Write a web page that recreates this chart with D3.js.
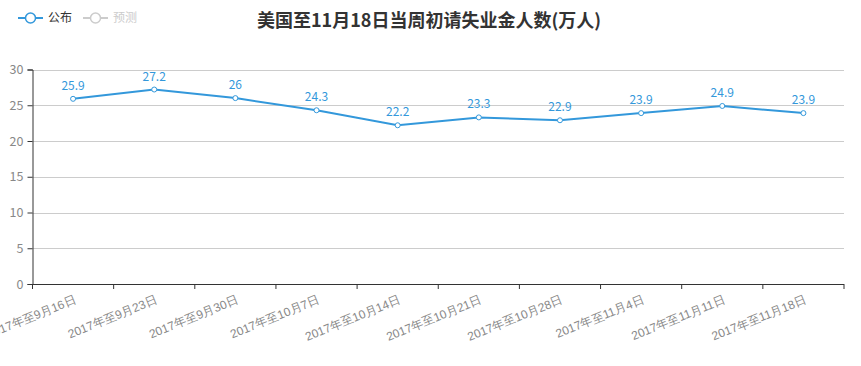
<!DOCTYPE html>
<html><head><meta charset="utf-8">
<script src="https://cdn.jsdelivr.net/npm/d3@7/dist/d3.min.js"></script>
<style>body{margin:0;background:#fff;}svg{display:block;font-family:"Noto Sans CJK SC","Microsoft YaHei",sans-serif;}</style>
</head><body><svg id="c" width="861" height="366"></svg>
<script>
const categories = ["2017年至9月16日","2017年至9月23日","2017年至9月30日","2017年至10月7日","2017年至10月14日","2017年至10月21日","2017年至10月28日","2017年至11月4日","2017年至11月11日","2017年至11月18日"];
const published = [25.9, 27.2, 26, 24.3, 22.2, 23.3, 22.9, 23.9, 24.9, 23.9];
const yTicks = [0, 5, 10, 15, 20, 25, 30];
const legendItems = ["公布", "预测"];
const title = "美国至11月18日当周初请失业金人数(万人)";

const svg = d3.select("#c");
const L = 32.5, R = 844, T = 69.5, B = 284;
const color = "#3398db";
const x = d3.scaleBand().domain(categories).range([L, R]);
const y = d3.scaleLinear().domain([0, 30]).range([B, T]);

// grid
svg.append("g").selectAll("line").data(yTicks.filter(d => d > 0)).join("line")
  .attr("x1", L).attr("x2", R).attr("y1", d => Math.round(y(d)) + 0.5).attr("y2", d => Math.round(y(d)) + 0.5)
  .attr("stroke", "#ccc").attr("stroke-width", 1);

// y axis
const ya = svg.append("g").attr("transform", `translate(${L},0)`)
  .call(d3.axisLeft(y).tickValues(yTicks).tickSize(5).tickPadding(4));
ya.select(".domain").attr("stroke", "#333");
ya.selectAll(".tick line").attr("stroke", "#333");
ya.selectAll("text").attr("fill", "#888").style("font-size", "12.5px").style("font-family", "'Noto Sans CJK SC',sans-serif");

// x axis
const xa = svg.append("g").attr("transform", `translate(0,${B})`)
  .call(d3.axisBottom(x).tickSize(0).tickFormat(""));
xa.select(".domain").attr("stroke", "#333").attr("d", `M${L},0.5H${R}`);
const bounds = categories.map((c, i) => x(c)).concat([R]);
xa.append("g").selectAll("line").data(bounds).join("line")
  .attr("x1", d => d).attr("x2", d => d).attr("y1", 0).attr("y2", 5).attr("stroke", "#333");
xa.append("g").selectAll("text").data(categories).join("text")
  .attr("transform", d => `translate(${x(d) + x.bandwidth() / 2 + 2},${15}) rotate(-22)`)
  .attr("text-anchor", "end").attr("dy", "0.35em")
  .attr("fill", "#888").style("font-size", "12px").text(d => d);

// line
const line = d3.line().x((d, i) => x(categories[i]) + x.bandwidth() / 2).y(d => y(d));
svg.append("path").datum(published).attr("d", line)
  .attr("fill", "none").attr("stroke", color).attr("stroke-width", 2);
svg.append("g").selectAll("circle").data(published).join("circle")
  .attr("cx", (d, i) => x(categories[i]) + x.bandwidth() / 2).attr("cy", d => y(d)).attr("r", 2.5)
  .attr("fill", "#fff").attr("stroke", color).attr("stroke-width", 1);
svg.append("g").selectAll("text").data(published).join("text")
  .attr("x", (d, i) => x(categories[i]) + x.bandwidth() / 2).attr("y", d => y(d) - 9)
  .attr("text-anchor", "middle").attr("fill", color).style("font-size", "12px").text(d => d);

// title
svg.append("text").attr("x", 429).attr("y", 27).attr("text-anchor", "middle")
  .attr("fill", "#333").style("font-size", "18px").style("font-weight", "bold").text(title);

// legend
const lg = svg.append("g");
const legX = [18, 83];
legendItems.forEach((name, i) => {
  const c = i === 0 ? color : "#ccc";
  const tc = i === 0 ? "#333" : "#ccc";
  const g = lg.append("g").attr("transform", `translate(${legX[i]},18)`);
  g.append("line").attr("x1", 0).attr("x2", 25).attr("y1", 0).attr("y2", 0).attr("stroke", c).attr("stroke-width", 2);
  g.append("circle").attr("cx", 12.5).attr("cy", 0).attr("r", 5).attr("fill", "#fff").attr("stroke", c).attr("stroke-width", 1.5);
  g.append("text").attr("x", 30).attr("y", 0).attr("dy", "0.35em").attr("fill", tc).style("font-size", "12px").text(name);
});
</script></body></html>
